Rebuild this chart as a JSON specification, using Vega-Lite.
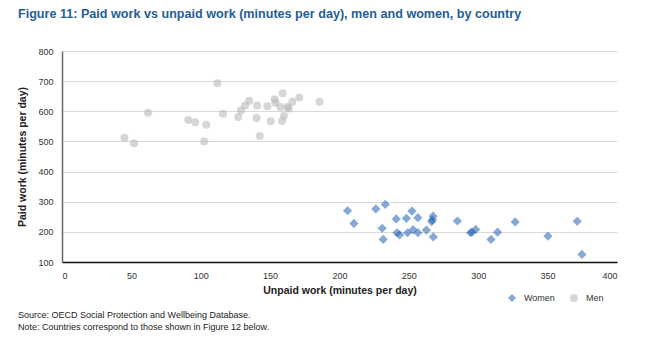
{
  "$schema": "https://vega.github.io/schema/vega-lite/v6.json",
  "padding": {"left": 17, "top": 8, "right": 10, "bottom": 5},
  "title": {
    "text": ["Source: OECD Social Protection and Wellbeing Database.", "Note: Countries correspond to those shown in Figure 12 below."],
    "orient": "bottom",
    "anchor": "start",
    "fontSize": 9,
    "fontWeight": "normal",
    "font": "Liberation Sans",
    "color": "#222222",
    "lineHeight": 12,
    "offset": 8
  },
  "vconcat": [
    {
      "width": 555,
      "height": 211,
      "title": {
        "text": "Figure 11: Paid work vs unpaid work (minutes per day), men and women, by country",
        "anchor": "start",
        "fontSize": 12.6,
        "fontWeight": "bold",
        "font": "Liberation Sans",
        "color": "#255e96",
        "offset": 26
      },
      "data": {
        "values": [
          {"sex": "Men", "unpaid": 112, "paid": 693},
          {"sex": "Men", "unpaid": 62, "paid": 595},
          {"sex": "Men", "unpaid": 91, "paid": 571},
          {"sex": "Men", "unpaid": 96, "paid": 564},
          {"sex": "Men", "unpaid": 104, "paid": 555},
          {"sex": "Men", "unpaid": 45, "paid": 512},
          {"sex": "Men", "unpaid": 52, "paid": 494},
          {"sex": "Men", "unpaid": 102.5, "paid": 500},
          {"sex": "Men", "unpaid": 116, "paid": 592},
          {"sex": "Men", "unpaid": 127, "paid": 581},
          {"sex": "Men", "unpaid": 129, "paid": 603},
          {"sex": "Men", "unpaid": 132, "paid": 619},
          {"sex": "Men", "unpaid": 135, "paid": 635},
          {"sex": "Men", "unpaid": 140.6, "paid": 619},
          {"sex": "Men", "unpaid": 140.3, "paid": 578},
          {"sex": "Men", "unpaid": 142.5, "paid": 518},
          {"sex": "Men", "unpaid": 148, "paid": 617},
          {"sex": "Men", "unpaid": 150.4, "paid": 567},
          {"sex": "Men", "unpaid": 153.3, "paid": 640},
          {"sex": "Men", "unpaid": 153.8, "paid": 628},
          {"sex": "Men", "unpaid": 159, "paid": 660},
          {"sex": "Men", "unpaid": 157.4, "paid": 614},
          {"sex": "Men", "unpaid": 162.5, "paid": 614},
          {"sex": "Men", "unpaid": 163.4, "paid": 609},
          {"sex": "Men", "unpaid": 166, "paid": 632},
          {"sex": "Men", "unpaid": 160, "paid": 585},
          {"sex": "Men", "unpaid": 158.6, "paid": 568},
          {"sex": "Men", "unpaid": 171, "paid": 646},
          {"sex": "Men", "unpaid": 185.6, "paid": 632},
          {"sex": "Women", "unpaid": 205.8, "paid": 270},
          {"sex": "Women", "unpaid": 210.4, "paid": 228},
          {"sex": "Women", "unpaid": 226.2, "paid": 276},
          {"sex": "Women", "unpaid": 233, "paid": 291},
          {"sex": "Women", "unpaid": 230.8, "paid": 212},
          {"sex": "Women", "unpaid": 231.5, "paid": 175},
          {"sex": "Women", "unpaid": 240.9, "paid": 243},
          {"sex": "Women", "unpaid": 248.2, "paid": 245},
          {"sex": "Women", "unpaid": 252.2, "paid": 269},
          {"sex": "Women", "unpaid": 256.5, "paid": 247},
          {"sex": "Women", "unpaid": 241.4, "paid": 197},
          {"sex": "Women", "unpaid": 243.3, "paid": 190},
          {"sex": "Women", "unpaid": 249.1, "paid": 197},
          {"sex": "Women", "unpaid": 253, "paid": 207},
          {"sex": "Women", "unpaid": 256.5, "paid": 197},
          {"sex": "Women", "unpaid": 262.6, "paid": 206},
          {"sex": "Women", "unpaid": 267.4, "paid": 252},
          {"sex": "Women", "unpaid": 266.4, "paid": 234},
          {"sex": "Women", "unpaid": 267, "paid": 240},
          {"sex": "Women", "unpaid": 267.6, "paid": 183},
          {"sex": "Women", "unpaid": 285, "paid": 236},
          {"sex": "Women", "unpaid": 294.4, "paid": 197},
          {"sex": "Women", "unpaid": 295.5, "paid": 199},
          {"sex": "Women", "unpaid": 298.2, "paid": 208},
          {"sex": "Women", "unpaid": 309.2, "paid": 175},
          {"sex": "Women", "unpaid": 313.9, "paid": 199},
          {"sex": "Women", "unpaid": 326.6, "paid": 233},
          {"sex": "Women", "unpaid": 350.2, "paid": 186},
          {"sex": "Women", "unpaid": 371.3, "paid": 235},
          {"sex": "Women", "unpaid": 374.7, "paid": 125}
        ]
      },
      "mark": {"type": "point", "filled": true, "opacity": 0.55},
      "encoding": {
        "x": {
          "field": "unpaid",
          "type": "quantitative",
          "scale": {"domain": [0, 400], "nice": false, "zero": false},
          "axis": {
            "title": "Unpaid work (minutes per day)",
            "values": [0, 50, 100, 150, 200, 250, 300, 350, 400],
            "grid": false,
            "ticks": false,
            "domainColor": "#111111",
            "domainWidth": 1.5,
            "labelFontSize": 9,
            "labelColor": "#333333",
            "labelFont": "Liberation Sans",
            "labelPadding": 9,
            "titleFont": "Liberation Sans",
            "titleFontSize": 10.5,
            "titleFontWeight": "bold",
            "titleColor": "#222222",
            "titlePadding": 5
          }
        },
        "y": {
          "field": "paid",
          "type": "quantitative",
          "scale": {"domain": [100, 800], "nice": false, "zero": false},
          "axis": {
            "title": "Paid work (minutes per day)",
            "values": [100, 200, 300, 400, 500, 600, 700, 800],
            "grid": true,
            "gridColor": "#d9d9d9",
            "gridWidth": 1,
            "ticks": false,
            "domainColor": "#666666",
            "domainWidth": 1.5,
            "labelFontSize": 9,
            "labelColor": "#333333",
            "labelFont": "Liberation Sans",
            "labelPadding": 9,
            "titleFont": "Liberation Sans",
            "titleFontSize": 10.5,
            "titleFontWeight": "bold",
            "titleColor": "#222222",
            "titlePadding": 10
          }
        },
        "shape": {
          "field": "sex",
          "type": "nominal",
          "scale": {"domain": ["Women", "Men"], "range": ["diamond", "circle"]},
          "legend": {
            "title": null,
            "orient": "none",
            "direction": "horizontal",
            "legendX": 445,
            "legendY": 242,
            "padding": 0,
            "symbolSize": 64,
            "labelFont": "Liberation Sans",
            "labelFontSize": 9,
            "labelColor": "#333333",
            "labelOffset": 7,
            "columnPadding": 14
          }
        },
        "color": {
          "field": "sex",
          "type": "nominal",
          "scale": {"domain": ["Women", "Men"], "range": ["#2060b0", "#b4b4b4"]},
          "legend": {
            "title": null,
            "orient": "none",
            "direction": "horizontal",
            "legendX": 445,
            "legendY": 242,
            "padding": 0,
            "symbolSize": 64,
            "labelFont": "Liberation Sans",
            "labelFontSize": 9,
            "labelColor": "#333333",
            "labelOffset": 7,
            "columnPadding": 14
          }
        },
        "size": {
          "condition": {"test": "datum.sex === 'Women'", "value": 85},
          "value": 64
        }
      }
    }
  ],
  "config": {
    "view": {"stroke": null},
    "background": "white"
  }
}
